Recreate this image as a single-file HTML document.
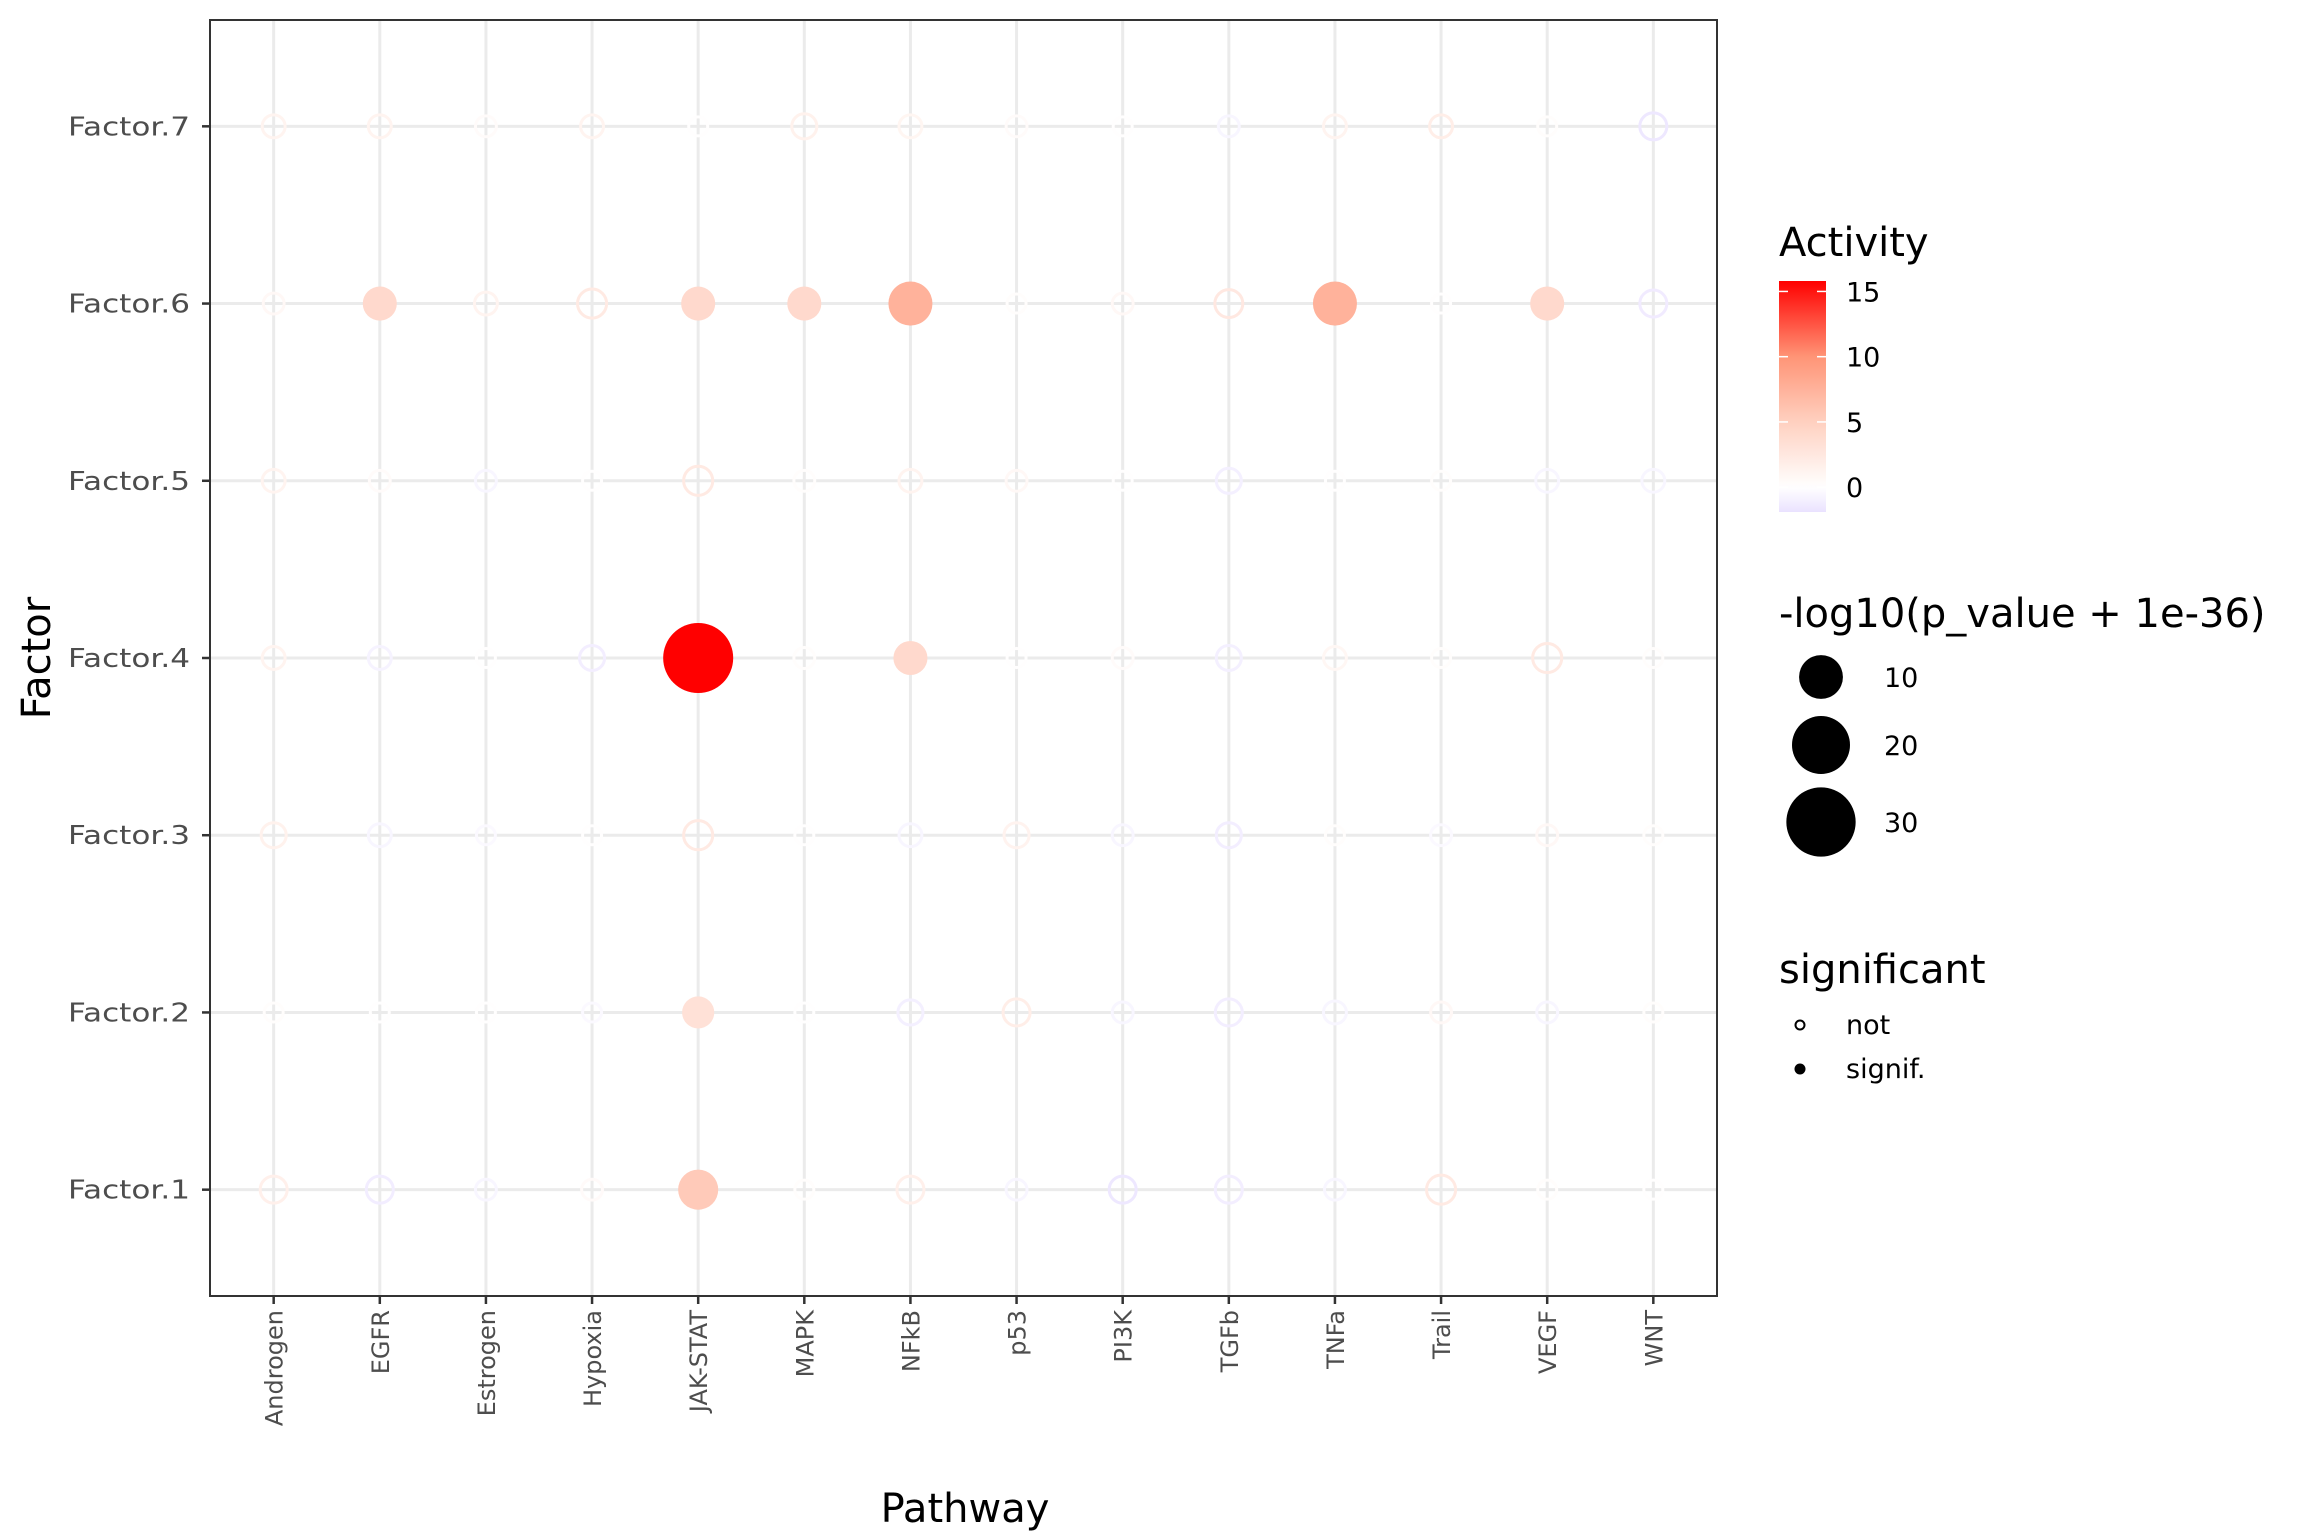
<!DOCTYPE html>
<html><head><meta charset="utf-8">
<style>
html,body{margin:0;padding:0;background:#fff;}
svg{display:block;font-family:"DejaVu Sans","Liberation Sans",sans-serif;}
</style></head>
<body>
<svg id="chart" width="2304" height="1536" viewBox="0 0 2304 1536" xmlns="http://www.w3.org/2000/svg">
<rect x="0" y="0" width="2304" height="1536" fill="#fff"/>
<g id="grid"></g>
<g id="points"></g>
<rect x="210" y="20" width="1507" height="1276" fill="none" stroke="#333" stroke-width="2"/>
<g id="axes"></g>
<text x="965" y="1522" font-size="40" text-anchor="middle" fill="#000">Pathway</text>
<text x="50" y="658" font-size="40" text-anchor="middle" transform="rotate(-90 50 658)" fill="#000">Factor</text>
<g id="legend"></g>
</svg>
<script>
const pathways = ["Androgen","EGFR","Estrogen","Hypoxia","JAK-STAT","MAPK","NFkB","p53","PI3K","TGFb","TNFa","Trail","VEGF","WNT"];
const factors = ["Factor.1","Factor.2","Factor.3","Factor.4","Factor.5","Factor.6","Factor.7"];
// rows listed Factor.1 .. Factor.7
const activity = [
 [1.6,-1.2,-0.6,0.5,5.5,0.2,1.6,-0.6,-1.5,-1.1,-0.6,2.2,0.2,0.1],
 [0.2,0.1,0.1,-0.4,3.2,0.1,-1.0,1.8,-0.6,-1.1,-0.6,0.7,-0.6,0.2],
 [1.4,-0.6,-0.4,0.1,2.2,0.1,-0.6,1.3,-0.6,-1.1,0.2,-0.4,0.7,0.2],
 [1.2,-0.8,0.1,-1.1,15.8,0.2,4.0,0.1,0.4,-1.0,0.9,0.2,2.2,0.2],
 [1.2,0.4,-0.6,0.1,2.2,0.2,1.2,0.7,0.1,-1.0,0.1,0.2,-0.6,-0.6],
 [0.7,4.0,1.2,2.2,4.0,4.0,7.5,0.2,0.7,2.4,7.5,0.1,4.0,-1.3],
 [1.2,1.2,0.4,1.2,0.1,1.4,1.0,0.4,0.1,-0.6,1.2,1.8,0.2,-1.5]
];
const logp = [
 [2.9,2.9,0.6,0.6,7.8,0,2.9,0.6,2.9,2.9,0.6,3.8,0,0],
 [0,0,0,0,3.8,0,2.1,2.9,0.6,2.9,1.3,0.6,0.6,0],
 [2.1,1.3,0,0,3.8,0,1.3,2.1,0.6,2.1,0,0.6,0.6,0],
 [1.3,1.3,0,2.1,30.7,0.6,4.7,0,0.6,2.1,1.3,0,3.8,0],
 [1.3,0.6,0.6,0,3.8,0.6,1.3,0.6,0,2.1,0,0,1.3,1.3],
 [0.6,4.7,1.3,3.8,4.7,4.7,10.1,0,0.6,3.3,10.1,0,4.7,2.9],
 [1.3,1.3,0.6,1.3,0,2.1,1.3,0.6,0,0.6,1.3,1.3,0,2.9]
];
const significant = [
 [0,0,0,0,1,0,0,0,0,0,0,0,0,0],
 [0,0,0,0,1,0,0,0,0,0,0,0,0,0],
 [0,0,0,0,0,0,0,0,0,0,0,0,0,0],
 [0,0,0,0,1,0,1,0,0,0,0,0,0,0],
 [0,0,0,0,0,0,0,0,0,0,0,0,0,0],
 [0,1,0,0,1,1,1,0,0,0,1,0,1,0],
 [0,0,0,0,0,0,0,0,0,0,0,0,0,0]
];
const colorTicks = [0,5,10,15];
const sizeTicks = [10,20,30];

const NS="http://www.w3.org/2000/svg";
const X0=210,X1=1717,Y0=20,Y1=1296;
const xStep=(X1-X0)/(pathways.length+0.2);
function xPos(i){return X0+(0.6+i)*xStep;}
const yStep=(Y1-Y0)/(factors.length+0.2);
function yPos(j){return Y1-(0.6+j)*yStep;}
function rad(v){return Math.sqrt(121+36*Math.max(0,v));}
const stops=[[-1.9,[234,226,255]],[0,[255,255,255]],[5,[255,208,192]],[10,[255,148,118]],[15.8,[255,0,0]]];
function col(v){
  if(v<=stops[0][0])return rgb(stops[0][1]);
  for(let k=1;k<stops.length;k++){
    if(v<=stops[k][0]){const a=stops[k-1],b=stops[k];const t=(v-a[0])/(b[0]-a[0]);
      return rgb(a[1].map((c,i)=>c+(b[1][i]-c)*t));}
  }
  return rgb(stops[stops.length-1][1]);
}
function rgb(a){return "rgb("+a.map(Math.round).join(",")+")";}
function mk(tag,attrs,parent){const e=document.createElementNS(NS,tag);for(const k in attrs)e.setAttribute(k,attrs[k]);parent.appendChild(e);return e;}

const grid=document.getElementById("grid");
pathways.forEach((p,i)=>{const l=mk("line",{x1:xPos(i),x2:xPos(i),y1:Y0,y2:Y1,stroke:"#ebebeb","stroke-width":3},grid);

});
factors.forEach((f,j)=>{const l=mk("line",{x1:X0,x2:X1,y1:yPos(j),y2:yPos(j),stroke:"#ebebeb","stroke-width":3},grid);

});

const pts=document.getElementById("points");
factors.forEach((f,j)=>{pathways.forEach((p,i)=>{
  const v=activity[j][i],s=significant[j][i],r=rad(logp[j][i]);
  let c;
  if(s){c=mk("circle",{cx:xPos(i),cy:yPos(j),r:r,fill:col(v)},pts);}
  else{c=mk("circle",{cx:xPos(i),cy:yPos(j),r:r-1.5,fill:"none",stroke:col(v),"stroke-width":3},pts);}
  
  
});});

const ax=document.getElementById("axes");
pathways.forEach((p,i)=>{
  const t=mk("line",{x1:xPos(i),x2:xPos(i),y1:Y1,y2:Y1+8,stroke:"#333","stroke-width":2.5},ax);
  
  
  const tx=mk("text",{x:xPos(i)+9,y:1310,"font-size":24,fill:"#4d4d4d","text-anchor":"end",transform:"rotate(-90 "+(xPos(i)+9)+" 1310)"},ax);
  tx.textContent=p;
  
  
});
factors.forEach((f,j)=>{
  const t=mk("line",{x1:X0-8,x2:X0,y1:yPos(j),y2:yPos(j),stroke:"#333","stroke-width":2.5},ax);
  
  
  const tx=mk("text",{x:190,y:yPos(j)+9,"font-size":26,fill:"#4d4d4d","text-anchor":"end",textLength:122,lengthAdjust:"spacingAndGlyphs"},ax);
  tx.textContent=f;
  
  
});

// Legend
const lg=document.getElementById("legend");
function txt(x,y,s,size,name){const t=mk("text",{x:x,y:y,"font-size":size,fill:"#000"},lg);t.textContent=s;
  
  return t;}
txt(1779,256,"Activity",40,"color-legend-title");
const defs=mk("defs",{},lg);
const grad=mk("linearGradient",{id:"cg",x1:0,y1:1,x2:0,y2:0},defs);
const CB0=512,CB1=281,vMin=-1.9,vMax=15.8;
for(let k=0;k<=40;k++){const v=vMin+(vMax-vMin)*k/40;mk("stop",{offset:(k/40),"stop-color":col(v)},grad);}
const bar=mk("rect",{x:1779,y:CB1,width:47,height:CB0-CB1,fill:"url(#cg)"},lg);


function cbY(v){return CB0-(v-vMin)/(vMax-vMin)*(CB0-CB1);}
colorTicks.forEach(v=>{
  mk("line",{x1:1779,x2:1788,y1:cbY(v),y2:cbY(v),stroke:"#fff","stroke-width":1.5},lg);
  mk("line",{x1:1817,x2:1826,y1:cbY(v),y2:cbY(v),stroke:"#fff","stroke-width":1.5},lg);
  txt(1846,cbY(v)+10,String(v),27,"colorbar-label");
});
txt(1779,627,"-log10(p_value + 1e-36)",40,"size-legend-title");
const sizeY=[677,745,822];
sizeTicks.forEach((v,k)=>{
  const c=mk("circle",{cx:1821,cy:sizeY[k],r:rad(v),fill:"#000"},lg);
  
  
  txt(1884,sizeY[k]+10,String(v),27,"size-legend-label");
});
txt(1779,983,"significant",40,"shape-legend-title");
const c1=mk("circle",{cx:1800,cy:1025,r:4.5,fill:"none",stroke:"#000","stroke-width":2},lg);


txt(1846,1034,"not",27,"legend-not-label");
const c2=mk("circle",{cx:1800,cy:1069,r:5.5,fill:"#000"},lg);


txt(1846,1078,"signif.",27,"legend-signif-label");
</script>
</body></html>
